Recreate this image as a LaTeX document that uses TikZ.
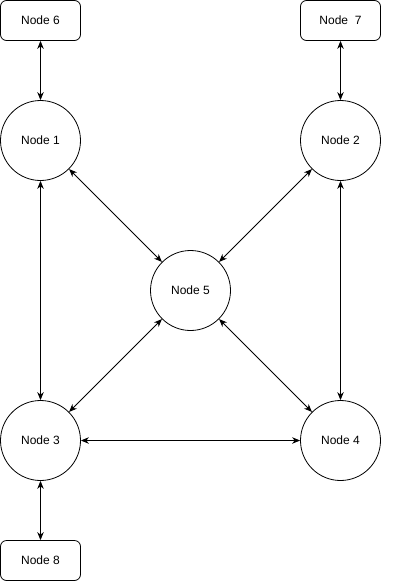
\documentclass[tikz,border=0pt]{standalone}
\usepackage{fontspec}
\setmainfont{Liberation Sans}
\usetikzlibrary{arrows.meta}
\begin{document}
\begin{tikzpicture}[x=1pt,y=-1pt,
  boxnode/.style={draw,line width=0.8pt,rounded corners=6pt,minimum width=80pt,minimum height=40pt,inner sep=0pt,font=\fontsize{12}{14}\selectfont},
  circnode/.style={draw,circle,line width=0.8pt,minimum size=80pt,inner sep=0pt,font=\fontsize{12}{14}\selectfont},
  link/.style={line width=0.8pt,{Stealth[length=8pt,width=6.5pt]}-{Stealth[length=8pt,width=6.5pt]}}]
\useasboundingbox (0,0) rectangle (401,581);
\node[boxnode] (n6) at (40.5,20.5) {Node 6};
\node[boxnode] (n7) at (340.5,20.5) {Node~~7};
\node[boxnode] (n8) at (40.5,560.5) {Node 8};
\node[circnode] (n1) at (40.5,140.5) {Node 1};
\node[circnode] (n2) at (340.5,140.5) {Node 2};
\node[circnode] (n5) at (190.5,290.5) {Node 5};
\node[circnode] (n3) at (40.5,440.5) {Node 3};
\node[circnode] (n4) at (340.5,440.5) {Node 4};
\draw[link] (n6) -- (n1);
\draw[link] (n7) -- (n2);
\draw[link] (n1) -- (n3);
\draw[link] (n2) -- (n4);
\draw[link] (n3) -- (n4);
\draw[link] (n3) -- (n8);
\draw[link] (n1) -- (n5);
\draw[link] (n2) -- (n5);
\draw[link] (n3) -- (n5);
\draw[link] (n4) -- (n5);
\end{tikzpicture}
\end{document}
